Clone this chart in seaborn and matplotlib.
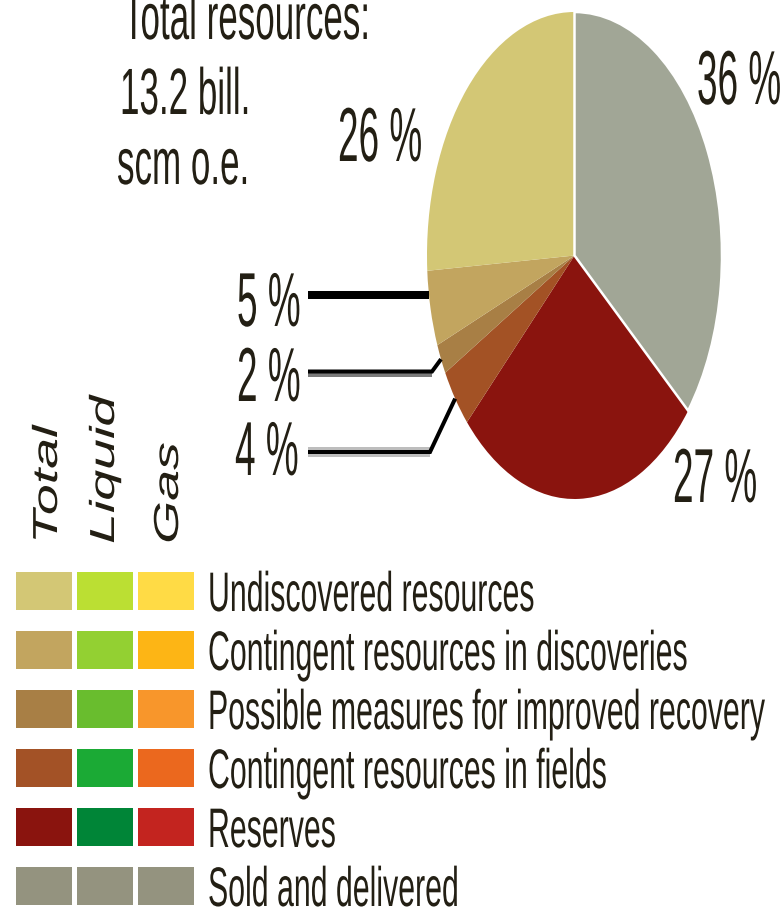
import numpy as np
import matplotlib
matplotlib.use("Agg")
import matplotlib.pyplot as plt
import seaborn as sns
from matplotlib.patheffects import AbstractPathEffect
from matplotlib.transforms import Affine2D

# ---------------- data ----------------
categories = [
    "Undiscovered resources",
    "Contingent resources in discoveries",
    "Possible measures for improved recovery",
    "Contingent resources in fields",
    "Reserves",
    "Sold and delivered",
]
shares = [26, 5, 2, 4, 27, 36]          # percent of total resources
pie_colors = ["#D3C775", "#C2A55F", "#A87F45", "#A35225", "#8A140E", "#A1A696"]
total_colors = ["#D3C775", "#C2A55F", "#A87F45", "#A35226", "#8A140E", "#94937F"]
liquid_colors = ["#BBDF33", "#93D032", "#69BD2E", "#1BAA35", "#008537", "#94937F"]
gas_colors = ["#FFDB45", "#FDB515", "#F8962B", "#EB681E", "#C3241F", "#94937F"]
column_labels = ["Total", "Liquid", "Gas"]
title_lines = ["Total resources:", "13.2 bill.", "scm o.e."]

TXT = "#231F14"

sns.set_theme(style="white")
plt.rcParams["font.family"] = ["Liberation Sans", "DejaVu Sans"]


class Stretch(AbstractPathEffect):
    """Scale glyph outlines about the text baseline origin."""
    def __init__(self, sx=1.0, sy=1.0):
        super().__init__()
        self._sx, self._sy = sx, sy

    def draw_path(self, renderer, gc, tpath, affine, rgbFace=None):
        renderer.draw_path(gc, tpath, Affine2D().scale(self._sx, self._sy) + affine, rgbFace)


W, H = 784, 912
fig = plt.figure(figsize=(W / 100, H / 100), dpi=100)
fig.patch.set_facecolor("white")

# ---------------- pie (elliptical) ----------------
cx, cy, rx, ry = 574.5, 256.5, 147.5, 243.5
pax = fig.add_axes([(cx - rx) / W, 1 - (cy + ry) / H, 2 * rx / W, 2 * ry / H])
order = shares[::-1]
ocolors = pie_colors[::-1]
wedges, _ = pax.pie(order, colors=ocolors, startangle=90, counterclock=False,
                    radius=1.0, wedgeprops=dict(linewidth=0))
pax.set_aspect("auto")
pax.set_xlim(-1, 1)
pax.set_ylim(-1, 1)
pax.axis("off")
# white separator around the "sold and delivered" slice
wedges[0].set_edgecolor("white")
wedges[0].set_linewidth(1.8)
wedges[0].set_zorder(5)

# wedge angles (degrees) in category order
cum = np.cumsum([0] + order)
starts = 90 - 3.6 * cum[:-1]
ends = 90 - 3.6 * cum[1:]
ang = {}
for i, cat in enumerate(categories[::-1]):
    ang[cat] = (starts[i], ends[i])

# ---------------- overlay ----------------
ov = fig.add_axes([0, 0, 1, 1])
ov.set_xlim(0, W)
ov.set_ylim(H, 0)
ov.axis("off")


def stext(x, y, s, size, sx=1.0, sy=1.0, **kw):
    ov.text(x, y, s, fontsize=size, color=TXT, ha="left", va="baseline",
            path_effects=[Stretch(sx, sy)], **kw)


# title
for (x, y), s in zip([(123, 40), (120, 115), (117, 185)], title_lines):
    stext(x, y, s, 25.2, 1.0, 1.87)

# percent labels
label_pos = {
    "Sold and delivered": (697, 105),
    "Reserves": (673, 503),
    "Undiscovered resources": (338, 162),
    "Contingent resources in discoveries": (237, 327),
    "Possible measures for improved recovery": (237, 402),
    "Contingent resources in fields": (235, 476),
}
for cat, v in zip(categories, shares):
    x, y = label_pos[cat]
    stext(x, y, f"{v} %", 26.6, 1.0, 2.07)


# leader lines for the small slices
def edge_point(cat, frac):
    a0, a1 = ang[cat]
    t = np.deg2rad(a0 + frac * (a1 - a0))
    return cx + rx * np.cos(t), cy - ry * np.sin(t)


p = 0.72  # px -> pt
# 5 %
ax5, ay5 = edge_point("Contingent resources in discoveries", 0.68)
ov.plot([308, ax5], [ay5, ay5], color="black", lw=8 * p, solid_capstyle="butt", zorder=6)
# 2 %
ax2, ay2 = edge_point("Possible measures for improved recovery", 0.5)
ov.plot([308, 432], [375.5, 375.5], color="#7A7A7A", lw=4 * p, solid_capstyle="butt", zorder=5)
ov.plot([308, 432, ax2], [372.5, 372.5, ay2], color="black", lw=4 * p,
        solid_capstyle="butt", solid_joinstyle="miter", zorder=6)
# 4 %
ax4, ay4 = edge_point("Contingent resources in fields", 0.5)
ov.plot([308, 430], [453, 453], color="#BDBDBD", lw=10 * p, solid_capstyle="butt", zorder=5)
ov.plot([308, 430, ax4], [453, 453, ay4], color="black", lw=4 * p,
        solid_capstyle="butt", solid_joinstyle="miter", zorder=6)

# ---------------- legend grid ----------------
col_pitch, row_pitch = 61.0, 59.0
sw_w, sw_h = 56.0 / col_pitch, 38.0 / row_pitch
lx0, ly0 = 16.0, 573.0
lax = fig.add_axes([lx0 / W, 1 - (ly0 + row_pitch * 5 + 38) / H,
                    (col_pitch * 2 + 56) / W, (row_pitch * 5 + 38) / H])
lax.set_xlim(0, 2 + sw_w)
lax.set_ylim(5 + sw_h, 0)
lax.axis("off")
for ci, cols in enumerate([total_colors, liquid_colors, gas_colors]):
    lax.bar(np.full(len(cols), ci), sw_h, width=sw_w, bottom=np.arange(len(cols)),
            color=cols, align="edge", linewidth=0)

# legend labels
for i, cat in enumerate(categories):
    stext(208, 612 + row_pitch * i, cat, 21.8, 1.0, 1.84)

# column headers (rotated, italic)
for x, s in zip([57, 114, 178], column_labels):
    ov.text(x, 545, s, fontsize=25, color=TXT, rotation=90, rotation_mode="anchor",
            ha="left", va="baseline", fontstyle="italic",
            path_effects=[Stretch(1.6, 1.0)])

fig.savefig("out.png", dpi=100, facecolor="white")
